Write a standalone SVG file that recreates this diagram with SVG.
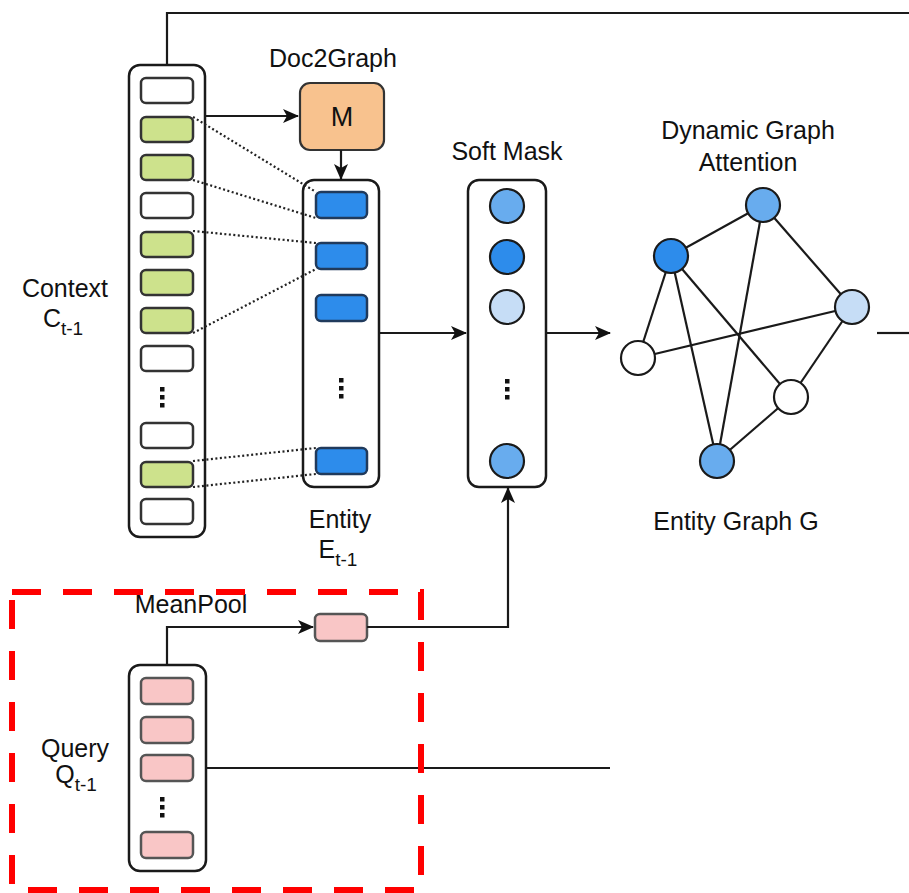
<svg xmlns="http://www.w3.org/2000/svg" width="909" height="893" viewBox="0 0 909 893">
<defs>
<marker id="arr" viewBox="0 0 16 14" refX="15" refY="7" markerWidth="16" markerHeight="14" markerUnits="userSpaceOnUse" orient="auto">
<path d="M0,0 L16,7 L0,14 L4,7 z" fill="#111"/>
</marker>
<style>
.cont{fill:#fff;stroke:#1a1a1a;stroke-width:2.5}
.cell{stroke:#333;stroke-width:2.5}
.w{fill:#fff}
.g{fill:#cde28c}
.b{fill:#2d8ceb;stroke:#203a5c}
.p{fill:#f9c6c6;stroke:#555}
.ln{fill:none;stroke:#1a1a1a;stroke-width:2.2}
.dot{fill:none;stroke:#222;stroke-width:2.2;stroke-dasharray:2 2.5}
.t{font-family:"Liberation Sans",Arial,sans-serif;font-size:25px;fill:#111;text-anchor:middle}
.sub{font-size:19px}
.n{stroke:#1a1a1a;stroke-width:2.2}
.dk{fill:#2d8ceb}
.md{fill:#68acee}
.lt{fill:#c6ddf6}
.dots{fill:#111}
</style>
</defs>

<g id="context">
<rect class="cont" x="129" y="65" width="76" height="472" rx="11"/>
<rect class="cell w" x="141" y="78" width="52" height="25" rx="5"/>
<rect class="cell g" x="141" y="117" width="52" height="25" rx="5"/>
<rect class="cell g" x="141" y="155" width="52" height="25" rx="5"/>
<rect class="cell w" x="141" y="193" width="52" height="25" rx="5"/>
<rect class="cell g" x="141" y="232" width="52" height="25" rx="5"/>
<rect class="cell g" x="141" y="270" width="52" height="25" rx="5"/>
<rect class="cell g" x="141" y="308" width="52" height="25" rx="5"/>
<rect class="cell w" x="141" y="346" width="52" height="25" rx="5"/>
<rect class="dots" x="160" y="387" width="4.5" height="4.5"/>
<rect class="dots" x="160" y="395" width="4.5" height="4.5"/>
<rect class="dots" x="160" y="403" width="4.5" height="4.5"/>
<rect class="cell w" x="141" y="423" width="52" height="25" rx="5"/>
<rect class="cell g" x="141" y="462" width="52" height="25" rx="5"/>
<rect class="cell w" x="141" y="499" width="52" height="25" rx="5"/>
<text class="t" x="65" y="297">Context</text>
<text class="t" x="63" y="327">C<tspan class="sub" dy="8">t-1</tspan></text>
</g>

<g id="doc2graph">
<rect x="300" y="83" width="84" height="67" rx="10" fill="#f8c28e" stroke="#333" stroke-width="2.2"/>
<text class="t" x="342" y="126" style="font-size:27px">M</text>
<text class="t" x="333" y="67">Doc2Graph</text>
</g>

<g id="entity">
<rect class="cont" x="303" y="180" width="76" height="307" rx="11"/>
<rect class="cell b" x="316" y="192" width="51" height="26" rx="5"/>
<rect class="cell b" x="316" y="243" width="51" height="26" rx="5"/>
<rect class="cell b" x="316" y="295" width="51" height="26" rx="5"/>
<rect class="dots" x="339" y="378" width="4.5" height="4.5"/>
<rect class="dots" x="339" y="386" width="4.5" height="4.5"/>
<rect class="dots" x="339" y="394" width="4.5" height="4.5"/>
<rect class="cell b" x="316" y="448" width="51" height="26" rx="5"/>
<text class="t" x="340" y="528">Entity</text>
<text class="t" x="338" y="558">E<tspan class="sub" dy="8">t-1</tspan></text>
</g>

<g id="soft-mask">
<rect class="cont" x="468" y="180" width="78" height="307" rx="11"/>
<circle class="n md" cx="507" cy="206" r="17"/>
<circle class="n dk" cx="507" cy="257" r="17"/>
<circle class="n lt" cx="507" cy="307" r="17"/>
<rect class="dots" x="505" y="379" width="4.5" height="4.5"/>
<rect class="dots" x="505" y="387" width="4.5" height="4.5"/>
<rect class="dots" x="505" y="395" width="4.5" height="4.5"/>
<circle class="n md" cx="507" cy="461" r="17"/>
<text class="t" x="507" y="160">Soft Mask</text>
</g>

<g id="meanpool">
<rect class="cell p" x="315" y="614" width="52" height="27" rx="5"/>
<text class="t" x="191" y="613">MeanPool</text>
</g>

<g id="query">
<rect class="cont" x="129" y="665" width="77" height="206" rx="11"/>
<rect class="cell p" x="141" y="678" width="52" height="26" rx="5"/>
<rect class="cell p" x="141" y="717" width="52" height="26" rx="5"/>
<rect class="cell p" x="141" y="755" width="52" height="26" rx="5"/>
<rect class="dots" x="160" y="797" width="4.5" height="4.5"/>
<rect class="dots" x="160" y="805" width="4.5" height="4.5"/>
<rect class="dots" x="160" y="813" width="4.5" height="4.5"/>
<rect class="cell p" x="141" y="832" width="52" height="26" rx="5"/>
<text class="t" x="75" y="757">Query</text>
<text class="t" x="76" y="783">Q<tspan class="sub" dy="8">t-1</tspan></text>
</g>

<g id="connectors">
<polyline class="ln" points="167,65 167,13 909,13"/>
<line class="ln" x1="205" y1="116" x2="298" y2="116" marker-end="url(#arr)"/>
<line class="ln" x1="341" y1="150" x2="341" y2="179" marker-end="url(#arr)"/>
<line class="ln" x1="379" y1="333" x2="466" y2="333" marker-end="url(#arr)"/>
<line class="ln" x1="546" y1="333" x2="610" y2="333" marker-end="url(#arr)"/>
<line class="ln" x1="877" y1="333" x2="909" y2="333"/>
<polyline class="ln" points="167,665 167,627 313,627" marker-end="url(#arr)"/>
<polyline class="ln" points="367,627 508,627 508,488" marker-end="url(#arr)"/>
<line class="ln" x1="206" y1="768" x2="610" y2="768"/>
<line class="dot" x1="193" y1="117" x2="316" y2="192"/>
<line class="dot" x1="193" y1="180" x2="316" y2="218"/>
<line class="dot" x1="193" y1="231" x2="316" y2="243"/>
<line class="dot" x1="193" y1="333" x2="316" y2="269"/>
<line class="dot" x1="193" y1="461" x2="316" y2="448"/>
<line class="dot" x1="193" y1="487" x2="316" y2="474"/>
<g id="graph-edges">
<line class="ln" x1="671" y1="256" x2="763" y2="205"/>
<line class="ln" x1="671" y1="256" x2="638" y2="358"/>
<line class="ln" x1="671" y1="256" x2="717" y2="461"/>
<line class="ln" x1="671" y1="256" x2="791" y2="397"/>
<line class="ln" x1="763" y1="205" x2="717" y2="461"/>
<line class="ln" x1="763" y1="205" x2="852" y2="307"/>
<line class="ln" x1="638" y1="358" x2="852" y2="307"/>
<line class="ln" x1="852" y1="307" x2="791" y2="397"/>
<line class="ln" x1="791" y1="397" x2="717" y2="461"/>
</g>
</g>

<g id="entity-graph">
<circle class="n dk" cx="671" cy="256" r="17"/>
<circle class="n md" cx="763" cy="205" r="17"/>
<circle class="n lt" cx="852" cy="307" r="17"/>
<circle class="n w" cx="638" cy="358" r="17"/>
<circle class="n w" cx="791" cy="397" r="17"/>
<circle class="n md" cx="717" cy="461" r="17"/>
<text class="t" x="748" y="139">Dynamic Graph</text>
<text class="t" x="748" y="171">Attention</text>
<text class="t" x="736" y="530">Entity Graph G</text>
</g>

<g id="query-box">
<rect x="12" y="592" width="409" height="298" fill="none" stroke="#ff0000" stroke-width="6" stroke-dasharray="29 22"/>
</g>
</svg>
